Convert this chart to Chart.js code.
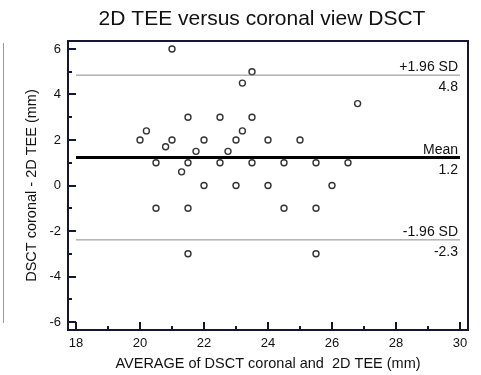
<!DOCTYPE html>
<html>
<head>
<meta charset="utf-8">
<script src="https://cdn.jsdelivr.net/npm/chart.js@4"></script>
<style>
    html, body { margin: 0; padding: 0; background: #fff; }
    #wrap { width: 481px; height: 375px; }
</style>
</head>
<body>
<div id="wrap"><canvas id="baChart" width="481" height="375"></canvas></div>
<script>
// Bland-Altman data: average vs difference (mm)
const avgValues = [21, 23.5, 23.2, 26.8, 21.5, 22.5, 23.5, 20.2, 23.2, 20, 21, 22, 23, 24, 25,
    20.8, 21.75, 22.75, 20.5, 21.5, 22.5, 23.5, 24.5, 25.5, 26.5, 21.3,
    22, 23, 24, 26, 20.5, 21.5, 24.5, 25.5, 21.5, 25.5];
const diffValues = [6, 5, 4.5, 3.6, 3, 3, 3, 2.4, 2.4, 2, 2, 2, 2, 2, 2,
    1.7, 1.5, 1.5, 1, 1, 1, 1, 1, 1, 1, 0.6,
    0, 0, 0, 0, -1, -1, -1, -1, -3, -3];

// Limits of agreement
const limitNames = ['+1.96 SD', 'Mean', '-1.96 SD'];
const limitValues = [4.85, 1.23, -2.39];
const limitLabels = ['4.8', '1.2', '-2.3'];

// Tick labels
const xTicks = [18, 20, 22, 24, 26, 28, 30];
const yTicks = [-6, -4, -2, 0, 2, 4, 6];

const chartTitle = '2D TEE versus coronal view DSCT';

const fontFamily = "'Liberation Sans', Arial, sans-serif";
const frameColor = 'rgb(22,22,48)';
Chart.defaults.font.family = fontFamily;
Chart.defaults.color = '#111';

// minor ticks halfway between labelled ones
function withMinor(ticks) {
    const out = [];
    ticks.forEach((v, i) => {
        out.push({ value: v, major: true });
        if (i < ticks.length - 1) out.push({ value: (v + ticks[i + 1]) / 2, major: false });
    });
    return out;
}

// Title, top/right box sides, inward ticks, limit labels
const decorPlugin = {
    id: 'baDecor',
    afterDraw(chart) {
        const ctx = chart.ctx;
        const area = chart.chartArea;
        const xs = chart.scales.x;
        const ys = chart.scales.y;
        const L = area.left, R = area.right, T = area.top, B = area.bottom;
        ctx.save();

        const right = xs.getPixelForValue(xTicks[xTicks.length - 1]) - 2;
        ctx.font = '14px ' + fontFamily;
        ctx.fillStyle = '#111';
        ctx.textAlign = 'right';
        limitValues.forEach((v, i) => {
            const py = ys.getPixelForValue(v);
            ctx.fillText(limitNames[i], right, py - 4);
            ctx.fillText(limitLabels[i], right, py + 16);
        });

        ctx.font = '21px ' + fontFamily;
        ctx.textAlign = 'center';
        ctx.fillText(chartTitle, (L + R) / 2 - 6, 25);

        // top and right sides
        ctx.fillStyle = frameColor;
        ctx.fillRect(L, T - 1, R - L + 1, 2);
        ctx.fillRect(R - 1, T - 1, 2, B - T + 1);

        // inward ticks
        withMinor(xTicks).forEach(t => {
            const px = Math.round(xs.getPixelForValue(t.value));
            const len = t.major ? 8 : 4;
            ctx.fillRect(px - 1, B - len, 2, len);
        });
        withMinor(yTicks).forEach(t => {
            const py = Math.round(ys.getPixelForValue(t.value));
            const len = t.major ? 8 : 4;
            ctx.fillRect(L, py - 1, len, 2);
        });

        // faint edge line from the scan
        ctx.fillStyle = '#999';
        ctx.fillRect(3, 43, 1, 280);
        ctx.restore();
    }
};

const limitColors = ['#8a8a8a', '#000', '#8a8a8a'];
const limitWidths = [1, 3, 1];

const datasets = limitValues.map((v, i) => ({
    type: 'line',
    label: limitNames[i],
    data: [{ x: xTicks[0], y: v }, { x: xTicks[xTicks.length - 1], y: v }],
    borderColor: limitColors[i],
    borderWidth: limitWidths[i],
    pointRadius: 0,
    fill: false
}));

datasets.push({
    type: 'scatter',
    label: 'Differences',
    data: avgValues.map((v, i) => ({ x: v, y: diffValues[i] })),
    pointStyle: 'circle',
    pointRadius: 3,
    pointBackgroundColor: '#fff',
    pointBorderColor: '#333',
    pointBorderWidth: 1.4
});

new Chart(document.getElementById('baChart'), {
    type: 'scatter',
    data: { datasets: datasets },
    options: {
        responsive: false,
        animation: false,
        layout: { padding: { left: 0, right: 13, top: 41, bottom: 0 } },
        plugins: {
            legend: { display: false },
            tooltip: { enabled: false },
            title: { display: false }
        },
        scales: {
            x: {
                type: 'linear',
                min: 17.75,
                max: 30.25,
                grid: { display: false, drawTicks: false },
                border: { display: true, width: 2, color: frameColor },
                afterBuildTicks: s => { s.ticks = xTicks.map(v => ({ value: v })); },
                afterFit: s => { s.height = 45; },
                ticks: { font: { size: 13 }, padding: 6, maxRotation: 0 },
                title: {
                    display: true,
                    text: 'AVERAGE of DSCT coronal and  2D TEE (mm)',
                    font: { size: 14.5 },
                    padding: { top: 0, bottom: 2 }
                }
            },
            y: {
                type: 'linear',
                min: -6.35,
                max: 6.35,
                grid: { display: false, drawTicks: false },
                border: { display: true, width: 2, color: frameColor },
                afterBuildTicks: s => { s.ticks = yTicks.map(v => ({ value: v })); },
                afterFit: s => { s.width = 68; },
                ticks: { font: { size: 13 }, padding: 7 },
                title: {
                    display: true,
                    text: 'DSCT coronal - 2D TEE (mm)',
                    font: { size: 14.5 },
                    padding: { top: 23, bottom: 0 }
                }
            }
        }
    },
    plugins: [decorPlugin]
});
</script>
</body>
</html>
